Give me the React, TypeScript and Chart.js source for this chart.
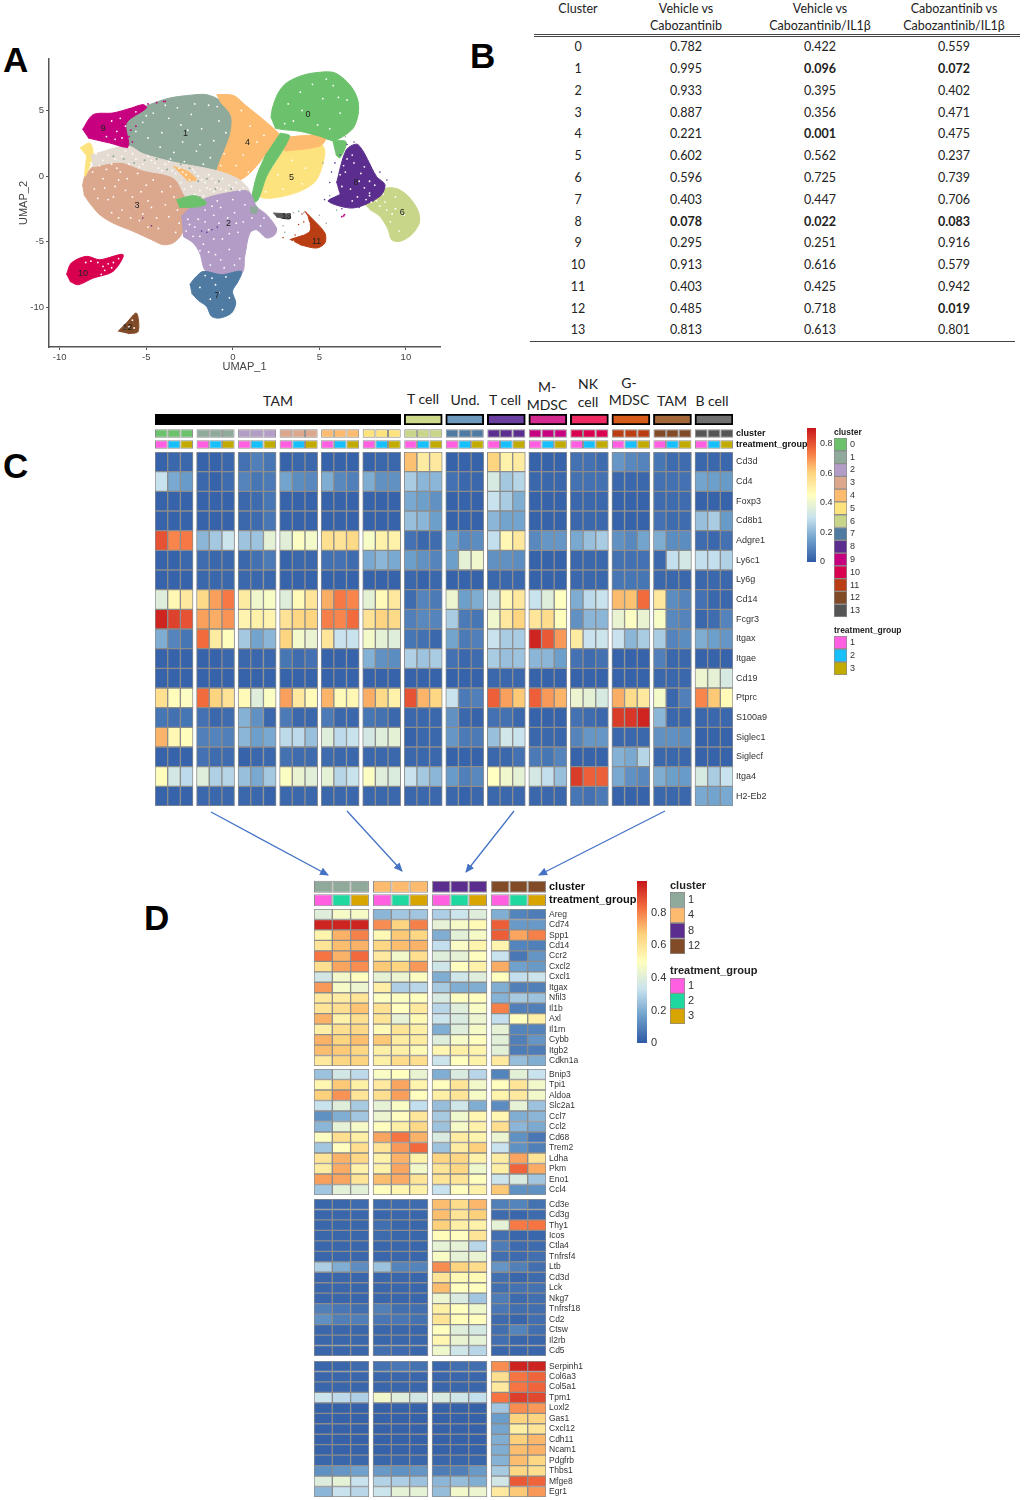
import React, { useEffect, useRef } from "react";
import { Chart, registerables } from "chart.js";

Chart.register(...registerables);
Chart.defaults.font.family = "'Liberation Sans', Arial, sans-serif";
Chart.defaults.animation = false as any;

/* ---------- shared colours ---------- */
const clusterColors = ["#6cc26c", "#8fa99a", "#b39cc6", "#dca88d", "#fdbb70", "#fde37e", "#c8d68a", "#4f7ba2", "#5b2d8e", "#c6007e", "#d90050", "#b93e14", "#824b27", "#555555"];
const treatmentC = ["#ff5fe0", "#18c0fb", "#c2ab00"];
const treatmentD = ["#ff5fe0", "#1fd8a0", "#d8a400"];
const heatStops: [number, string][] = [[0, "#2e5aa4"], [0.17, "#6fa1cc"], [0.33, "#c8e2ee"], [0.5, "#ffffbf"], [0.67, "#fdd27c"], [0.83, "#f5703f"], [1, "#c7161b"]];

/* ---------- panel A: cluster outlines and scattered cells, read in UMAP units ---------- */
const umapXTicks = [-10, -5, 0, 5, 10];
const umapYTicks = [-10, -5, 0, 5];
const shape3 = [[-8.69, -0.79], [-8.55, -0.03], [-8.17, 0.61], [-7.69, 1.12], [-6.53, 1.12], [-5.18, 0.48], [-3.45, -0.15], [-2.58, -1.81], [-2.68, -3.59], [-2.97, -4.48], [-3.45, -5.11], [-4.03, -5.24], [-4.7, -4.86], [-5.76, -4.22], [-6.92, -3.59], [-7.69, -2.95], [-8.27, -2.06], [-8.61, -1.42]];
const shape1 = [[-6.34, 3.92], [-5.76, 4.81], [-4.8, 5.45], [-3.64, 5.95], [-2.48, 6.16], [-1.52, 6.21], [-0.66, 5.7], [-0.08, 4.55], [0.02, 3.03], [-0.27, 1.5], [-0.94, 0.36], [-1.91, 0.61], [-3.45, 0.99], [-5.18, 1.63], [-6.05, 2.26]];
const shape4 = [[-0.94, 6.21], [0.02, 6.16], [0.69, 5.45], [2.33, 3.66], [2.72, 3.03], [2.33, 2.39], [1.18, 0.48], [0.4, -0.28], [-0.75, -0.03], [-0.94, 0.36], [-0.17, 3.03], [-0.08, 4.55], [-0.75, 5.7]];
const shape4b = [[-3.45, 0.74], [-2.6, 0.35], [-2.1, -0.28], [-2.6, -0.4]];
const shape5 = [[2.91, 2.01], [5.03, 2.52], [5.32, 1.76], [4.84, -0.28], [3.87, -1.17], [2.33, -1.68], [1.56, -1.55], [1.95, -0.03]];
const shape5b = [[-8.84, 2.14], [-8.27, 2.52], [-8.07, 1.76], [-8.27, 0.74], [-8.55, -0.03], [-8.45, 1.5]];
const shape4c = [[2.5, 2.9], [5.4, 3.1], [5.05, 2.3], [3.0, 1.9]];
const shape0 = [[2.2, 4.43], [2.29, 5.19], [2.62, 6.34], [3.1, 7.1], [3.87, 7.61], [4.64, 7.86], [5.8, 7.91], [6.47, 7.35], [6.96, 6.59], [7.24, 5.7], [7.24, 4.68], [6.96, 3.66], [6.38, 3.03], [5.8, 2.7], [5.03, 3.03], [3.87, 3.41], [2.91, 3.54], [2.43, 3.66]];
const shape0b = [[2.72, 3.28], [3.29, 3.03], [1.95, -0.03], [1.46, -1.81], [1.08, -2.06], [1.37, -0.03], [1.95, 1.76]];
const shape0c = [[-3.26, -1.81], [-2.2, -1.5], [-1.52, -2.06], [-2, -2.35], [-3.1, -2.4]];
const shape0d = [[5.75, 2.7], [6.55, 2.6], [6.2, 1.4], [5.95, 1.6]];
const shape2 = [[-2.97, -3.08], [-2.39, -2.32], [-1.52, -1.68], [-0.37, -1.3], [0.89, -1.17], [1.37, -2.32], [1.95, -2.95], [2.52, -3.97], [2.43, -4.48], [1.95, -4.73], [1.37, -4.1], [0.98, -4.35], [0.69, -6.13], [0.5, -7.4], [-1.52, -7.28], [-1.91, -5.88], [-2.29, -5.11], [-2.87, -4.61]];
const shape7 = [[-2.49, -8.3], [-2.2, -7.79], [-1.71, -7.28], [-0.66, -7.53], [0.5, -7.28], [0.31, -8.04], [-0.02, -8.8], [0.17, -9.69], [-0.08, -10.46], [-0.75, -10.84], [-1.23, -10.71], [-1.52, -9.95], [-2, -9.49], [-2.39, -8.93]];
const shape9 = [[-8.69, 3.54], [-8.07, 4.68], [-6.92, 4.81], [-5.86, 5.19], [-5.18, 5.45], [-4.99, 5.19], [-6.15, 4.04], [-6.05, 2.26], [-7.11, 2.52], [-8.36, 2.9]];
const shape10 = [[-9.61, -7.53], [-9.33, -6.64], [-8.46, -6.13], [-7.69, -6.39], [-6.34, -6.0], [-6.92, -7.28], [-8.07, -7.79], [-8.94, -8.3], [-9.42, -8.04]];
const shape12 = [[-6.63, -11.86], [-6.15, -11.22], [-5.57, -10.46], [-5.47, -11.86], [-6.05, -12.04]];
const shape11 = [[3.29, -4.86], [4.45, -4.22], [4.35, -3.08], [4.16, -2.7], [4.55, -3.2], [5.32, -4.35], [5.32, -5.11], [4.84, -5.5], [3.87, -5.24]];
const shape13 = [[2.33, -2.82], [3.29, -2.95], [3.29, -3.28], [2.52, -3.13]];
const shape6 = [[7.53, -2.06], [8.31, -1.42], [8.88, -0.92], [9.56, -1.0], [10.23, -1.68], [10.72, -2.7], [10.77, -3.59], [10.33, -4.48], [9.65, -4.99], [9.17, -4.86], [8.98, -4.1], [8.5, -3.08], [7.92, -2.57]];
const shape8 = [[5.99, -0.53], [6.56, 2.0], [7.24, 2.39], [8.3, -0.03], [8.79, -0.66], [8.5, -1.55], [6.96, -2.44], [5.51, -1.93], [6.18, -1.42]];
const shape1b = [[1.0, -2.4], [1.4, -2.35], [1.35, -2.85], [1.0, -2.8]];
const bridgeShape = [[-8.2, 1.6], [-6.1, 2.3], [-5.18, 1.7], [-3.4, 1.05], [-0.9, 0.4], [0.4, -0.3], [0.95, -1.2], [-0.4, -1.35], [-1.9, -1.9], [-2.6, -1.8], [-3.4, -0.15], [-5.2, 0.45], [-6.5, 1.05], [-8.1, 0.7]];

const whiteCells = [
  [-5.2, 4.1], [-4.6, 4.8], [-4.1, 3.3], [-3.7, 4.4], [-3.2, 5.2], [-2.9, 2.6], [-2.4, 4.7], [-2.1, 1.9], [-1.8, 3.6], [-1.4, 5.4], [-1.1, 2.7], [-0.8, 4.2], [-0.5, 1.7], [-0.4, 3.3], [-4.9, 2.9], [-5.6, 3.4], [-3.4, 1.8], [-2.6, 3.5], [-1.7, 0.9], [-1.3, 1.4], [-4.2, 2.2], [-3.0, 3.9], [-2.2, 5.5], [-0.9, 5.3], [-5.0, 4.6], [-3.9, 5.4], [-1.9, 2.4], [-0.7, 0.8], [-3.6, 1.3], [-2.8, 1.1],
  [-7.5, 1.2], [-7.0, 0.9], [-6.4, 1.5], [-6.0, 0.9], [-5.6, 1.3], [-5.2, 0.9], [-4.7, 1.2], [-4.3, 0.6], [-3.9, 0.9], [-3.5, 0.4], [-3.1, 0.6], [-2.7, 0.1], [-2.2, 0.3], [-1.8, -0.3], [-1.4, 0.1], [-1.0, -0.5], [-0.6, -0.2], [-0.2, -0.7], [0.2, -0.5], [0.6, -0.9], [-2.4, -0.8], [-1.9, -1.1], [-1.5, -0.9], [-1.1, -1.2], [-0.7, -1.0], [-3.0, -0.5], [-6.7, 0.6], [-7.9, 1.7], [-8.2, 1.0], [-8.1, 0.3],
  [-7.2, 1.6], [-6.8, 1.3], [-6.2, 1.9], [-5.8, 1.7], [-5.4, 0.7], [-4.9, 1.5], [-4.5, 1.0], [-4.1, 0.4], [-3.7, 1.1], [-3.3, 0.2], [-2.9, 0.3], [-2.5, -0.3], [-2.3, 0.5], [-2.0, 0.0], [-1.6, -0.5], [-1.2, -0.2], [-0.9, -0.9], [-0.4, -1.1], [0.0, -0.9], [0.4, -1.1], [-2.2, -1.4], [-1.7, -1.5], [-1.3, -1.0], [-2.8, -1.0], [-7.7, 0.8], [-7.3, 0.5],
  [-8.0, -1.0], [-7.5, -0.2], [-7.2, -1.8], [-6.8, -0.8], [-6.4, -2.6], [-6.1, -0.2], [-5.8, -1.6], [-5.4, -3.4], [-5.0, -0.7], [-4.7, -2.4], [-4.3, -4.0], [-4.1, -1.2], [-3.7, -3.1], [-3.4, -1.6], [-3.3, -4.3], [-5.9, -3.2], [-7.0, -2.8], [-4.9, -1.9], [-6.5, 0.3], [-5.5, 0.2],
  [-7.8, -1.7], [-7.4, -0.9], [-6.9, -1.6], [-6.6, -0.3], [-6.2, -1.1], [-5.6, -2.4], [-5.3, -1.2], [-4.6, -0.3], [-4.4, -3.2], [-3.9, -2.2], [-3.6, -0.8], [-3.2, -2.6], [-3.1, -3.6], [-4.9, -3.9], [-5.2, -2.9], [-6.6, -3.2],
  [-2.3, -4.6], [-2.0, -3.3], [-1.7, -5.2], [-1.4, -4.1], [-1.1, -3.0], [-1.0, -6.0], [-0.7, -2.4], [-0.6, -4.8], [-0.3, -3.2], [-0.2, -5.6], [0.1, -2.8], [0.3, -4.3], [0.4, -6.3], [-1.3, -6.8], [-0.5, -7.0], [0.7, -2.2], [0.6, -3.5], [-1.6, -2.6], [-2.5, -3.7], [1.6, -3.8], [-0.9, -1.9], [0.0, -1.8],
  [-2.7, -4.2], [-2.2, -3.9], [-1.9, -4.6], [-1.6, -3.5], [-1.9, -5.7], [-1.4, -5.8], [-1.1, -4.8], [-0.8, -3.6], [-0.7, -6.4], [-0.2, -4.4], [0.1, -6.8], [0.2, -3.6], [-2.6, -3.3], [-1.2, -2.3], [1.1, -3.2], [1.8, -3.2],
  [3.2, 5.5], [3.9, 6.4], [4.6, 7.0], [5.2, 5.9], [5.8, 6.9], [6.2, 4.8], [4.9, 3.9], [3.5, 4.2], [5.6, 3.6], [6.6, 5.8], [4.0, 5.0], [3.0, 4.0], [5.4, 7.4], [6.1, 6.0],
  [0.5, 5.0], [1.0, 3.8], [0.6, 1.6], [1.4, 2.6], [0.2, 0.8], [1.8, 3.1], [0.9, 0.3],
  [2.6, 0.1], [3.4, 1.2], [4.2, 0.6], [2.9, -1.0], [4.0, -0.6], [1.9, -1.2],
  [8.3, -1.9], [8.9, -2.6], [9.4, -1.6], [9.1, -3.5], [9.9, -3.0], [8.0, -2.0], [9.6, -4.2], [8.7, -1.4], [7.9, -1.5], [8.5, -2.3], [9.4, -2.5], [8.8, -2.0], [9.2, -2.9], [7.7, -1.8],
  [-1.9, -8.5], [-1.2, -7.8], [-0.8, -8.9], [-0.4, -7.7], [-0.2, -9.3], [-1.3, -9.4], [-0.6, -10.2], [-1.6, -7.6], [-1.0, -8.3],
  [6.5, 0.3], [7.0, 1.0], [7.4, 0.2], [7.6, -0.9], [6.8, -1.0], [6.3, -0.8], [7.9, -0.4], [7.2, -1.6], [6.6, 1.3], [6.9, 1.6], [7.6, 0.7], [6.2, 0.1], [6.1, -1.3], [6.9, -1.9], [7.9, -1.3], [8.2, -0.7], [7.3, -0.4], [6.4, 0.8],
  [-7.5, -6.9], [-7.8, -6.6], [-8.2, -6.5], [-7.2, -6.7], [-6.9, -6.6], [-8.5, -6.6], [-7.4, -7.2], [-7.0, -7.0], [-6.6, -6.3], [-7.6, -7.5],
  [-7.0, 4.2], [-6.7, 3.4], [-6.4, 2.9], [-7.3, 3.0], [-6.2, 3.8], [-6.5, 4.4], [-6.8, 2.8], [-5.6, 4.9],
  [-6.0, -11.5], [-5.8, -11.0], [-5.7, -11.6], [-6.2, -11.7],
  [4.4, -3.6], [4.1, -4.4], [3.5, -5.0],
];
const greyCells = [[-6.9, 1.5], [-6.3, 1.3], [-5.7, 1.0], [-5.1, 1.2], [-4.4, 1.3], [-3.8, 0.5], [-3.0, 0.9], [-2.5, 0.6], [-2.0, -0.4], [-1.5, -0.2], [-0.8, -0.4], [-0.1, -1.0], [-1.9, -1.6], [-1.0, -1.0]];
const strayCluster8 = [[6.2, 1.6], [6.6, 2.4], [7.0, 2.6], [5.9, 1.0], [5.7, 0.3], [5.6, -0.5], [8.5, 0.3], [8.9, -0.3], [6.3, -2.5], [7.3, -2.4], [8.1, -1.9], [5.3, -1.8], [8.3, -1.4], [6.4, 0.9], [7.9, 0.9], [-5.2, -3.2], [-4.7, -3.8], [-1.8, -4.2], [-1.5, -4.3], [-1.2, -4.1], [-0.9, -3.9]];
const strayCluster9 = [[-4.9, 5.5], [-4.4, 5.6], [-4.0, 5.7], [-3.9, 5.7], [-5.3, 5.2], [-6.0, 3.0], [-5.8, 2.6], [-5.6, 3.8], [-6.1, 2.2], [-5.9, 3.5], [6.3, -3.1], [6.4, -3.05], [6.45, -2.95]];
const strayCluster11 = [[4.0, -2.9], [3.8, -3.7], [3.6, -4.5], [2.9, -4.7], [4.1, -3.5]];
const strayCluster1 = [[3.5, -2.8], [3.8, -2.7], [4.1, -2.8], [5.0, -3.0], [5.4, -3.6], [2.9, -3.8], [3.0, -4.3], [6.0, -2.6], [5.6, -1.5], [6.0, 1.9], [6.5, 3.0], [5.2, 1.0]];
const labelIds = ["0", "1", "2", "3", "4", "5", "6", "7", "8", "9", "10", "11", "12", "13"];
const labelX = [4.35, -2.74, -0.25, -5.53, 0.85, 3.39, 9.79, -0.91, 7.11, -7.48, -8.65, 4.84, -6.09, 3.1];
const labelY = [4.73, 3.23, -3.64, -2.26, 2.52, -0.1, -2.8, -9.11, -0.46, 3.61, -7.43, -5.01, -11.53, -3.08];

/* ---------- panel B ---------- */
const tableClusters = ["0", "1", "2", "3", "4", "5", "6", "7", "8", "9", "10", "11", "12", "13"];
const tableVehCabo = ["0.782", "0.995", "0.933", "0.887", "0.221", "0.602", "0.596", "0.403", "*0.078", "0.295", "0.913", "0.403", "0.485", "0.813"];
const tableVehIl = ["0.422", "*0.096", "0.395", "0.356", "*0.001", "0.562", "0.725", "0.447", "*0.022", "0.251", "0.616", "0.425", "0.718", "0.613"];
const tableCaboIl = ["0.559", "*0.072", "0.402", "0.471", "0.475", "0.237", "0.739", "0.706", "*0.083", "0.916", "0.579", "0.942", "*0.019", "0.801"];

/* ---------- panel C ---------- */
const genesC = ["Cd3d", "Cd4", "Foxp3", "Cd8b1", "Adgre1", "Ly6c1", "Ly6g", "Cd14", "Fcgr3", "Itgax", "Itgae", "Cd19", "Ptprc", "S100a9", "Siglec1", "Siglecf", "Itga4", "H2-Eb2"];
const c0 = [[.02, .03, .03], [.30, .17, .14], [.02, .02, .02], [.02, .02, .02], [.80, .72, .74], [.02, .02, .03], [.02, .02, .02], [.36, .48, .53], [.88, .83, .80], [.18, .09, .06], [.02, .02, .02], [.02, .02, .02], [.56, .46, .44], [.06, .05, .06], [.65, .48, .46], [.02, .02, .02], [.46, .33, .28], [.02, .02, .02]];
const c1 = [[.02, .02, .03], [.03, .02, .04], [.02, .02, .02], [.02, .02, .02], [.20, .24, .31], [.04, .03, .03], [.03, .03, .03], [.58, .68, .74], [.68, .66, .70], [.76, .52, .46], [.02, .02, .03], [.02, .02, .02], [.76, .60, .55], [.05, .03, .04], [.08, .09, .08], [.05, .04, .04], [.36, .26, .27], [.03, .03, .03]];
const c2 = [[.05, .08, .06], [.09, .06, .07], [.03, .04, .06], [.03, .04, .06], [.23, .23, .38], [.03, .05, .07], [.03, .03, .03], [.52, .41, .43], [.49, .50, .49], [.24, .16, .20], [.03, .03, .03], [.02, .02, .02], [.47, .36, .44], [.19, .12, .03], [.20, .15, .17], [.02, .03, .03], [.22, .17, .24], [.03, .03, .02]];
const c3 = [[.02, .03, .03], [.16, .11, .10], [.02, .02, .02], [.02, .02, .02], [.37, .44, .42], [.02, .03, .03], [.02, .02, .02], [.36, .47, .54], [.55, .59, .60], [.60, .42, .39], [.06, .04, .05], [.02, .02, .02], [.68, .53, .47], [.07, .03, .03], [.28, .28, .22], [.05, .04, .04], [.44, .39, .37], [.03, .03, .03]];
const c4 = [[.02, .02, .02], [.18, .10, .08], [.02, .02, .02], [.02, .02, .02], [.56, .55, .58], [.05, .05, .04], [.02, .02, .02], [.66, .74, .72], [.73, .72, .76], [.54, .30, .30], [.02, .02, .02], [.02, .02, .02], [.65, .47, .48], [.07, .03, .03], [.36, .28, .30], [.04, .03, .03], [.38, .27, .30], [.03, .03, .03]];
const c5 = [[.02, .03, .03], [.18, .12, .12], [.02, .02, .02], [.02, .02, .02], [.43, .50, .50], [.17, .20, .17], [.02, .02, .02], [.38, .47, .53], [.55, .60, .58], [.42, .38, .36], [.19, .12, .11], [.02, .02, .02], [.66, .58, .50], [.06, .05, .03], [.33, .36, .38], [.03, .03, .03], [.44, .36, .35], [.03, .03, .03]];
const c6 = [[.63, .52, .53], [.25, .20, .20], [.17, .15, .12], [.22, .20, .15], [.05, .03, .04], [.15, .12, .09], [.03, .02, .03], [.04, .09, .07], [.08, .10, .09], [.06, .05, .03], [.26, .23, .25], [.02, .02, .02], [.80, .65, .59], [.03, .03, .03], [.02, .03, .03], [.03, .03, .03], [.30, .24, .20], [.03, .03, .03]];
const c7 = [[.02, .02, .02], [.05, .03, .03], [.02, .02, .02], [.02, .02, .02], [.15, .10, .11], [.15, .38, .41], [.02, .02, .02], [.40, .15, .18], [.25, .07, .06], [.16, .07, .08], [.05, .03, .04], [.02, .02, .02], [.30, .07, .08], [.12, .03, .02], [.13, .07, .07], [.02, .02, .02], [.14, .08, .10], [.03, .02, .03]];
const c8 = [[.60, .50, .52], [.34, .24, .27], [.30, .25, .18], [.20, .16, .16], [.29, .48, .53], [.12, .12, .11], [.03, .03, .03], [.33, .48, .53], [.41, .53, .60], [.30, .25, .25], [.25, .22, .23], [.03, .03, .03], [.78, .68, .62], [.05, .05, .03], [.22, .32, .30], [.03, .03, .05], [.45, .41, .38], [.03, .03, .03]];
const c9 = [[.02, .02, .02], [.03, .03, .03], [.02, .02, .02], [.02, .02, .02], [.10, .13, .13], [.02, .02, .02], [.02, .02, .02], [.30, .36, .45], [.54, .57, .46], [.88, .79, .69], [.20, .20, .15], [.02, .02, .02], [.78, .69, .65], [.02, .02, .02], [.03, .03, .03], [.07, .06, .09], [.33, .29, .22], [.03, .03, .03]];
const c10 = [[.05, .05, .04], [.05, .05, .05], [.03, .03, .03], [.03, .03, .03], [.17, .22, .25], [.03, .03, .03], [.03, .03, .03], [.18, .28, .30], [.12, .20, .20], [.52, .30, .31], [.05, .04, .05], [.02, .02, .02], [.40, .38, .34], [.05, .04, .03], [.09, .13, .13], [.02, .02, .02], [.84, .78, .78], [.06, .05, .07]];
const c11 = [[.13, .10, .09], [.03, .03, .03], [.02, .02, .02], [.02, .02, .02], [.12, .10, .16], [.05, .05, .05], [.06, .06, .06], [.64, .63, .76], [.39, .44, .39], [.30, .20, .25], [.02, .02, .02], [.02, .02, .02], [.66, .57, .53], [.84, .85, .88], [.03, .03, .03], [.19, .17, .27], [.17, .12, .10], [.02, .02, .02]];
const c12 = [[.06, .04, .04], [.05, .05, .05], [.04, .04, .04], [.05, .04, .04], [.18, .11, .11], [.03, .29, .33], [.03, .03, .03], [.53, .11, .09], [.43, .10, .09], [.25, .09, .11], [.08, .03, .03], [.03, .03, .03], [.42, .03, .08], [.20, .03, .03], [.12, .12, .11], [.03, .03, .03], [.18, .15, .14], [.03, .03, .03]];
const c13 = [[.03, .03, .03], [.16, .15, .14], [.02, .02, .02], [.22, .25, .14], [.04, .03, .05], [.29, .29, .26], [.03, .03, .03], [.05, .03, .03], [.03, .04, .09], [.18, .15, .13], [.02, .02, .02], [.40, .38, .34], [.72, .62, .47], [.03, .03, .03], [.02, .02, .02], [.02, .02, .02], [.34, .25, .30], [.17, .16, .17]];
const cGroups = [c0, c1, c2, c3, c4, c5, c6, c7, c8, c9, c10, c11, c12, c13];
const headerFirst = [0, 6, 7, 8, 9, 10, 11, 12, 13];
const headerLast = [5, 6, 7, 8, 9, 10, 11, 12, 13];
const headerFill = ["#000000", "#cfd98c", "#6e9bbd", "#6a3fa0", "#d42a8f", "#ef2a62", "#d75b1b", "#a4673a", "#707070"];

/* ---------- panel D ---------- */
const dClusters = [1, 4, 8, 12];
const genesD1 = ["Areg", "Cd74", "Spp1", "Cd14", "Ccr2", "Cxcl2", "Cxcl1", "Itgax", "Nfil3", "Il1b", "Axl", "Il1rn", "Cybb", "Itgb2", "Cdkn1a"];
const d1a = [[.40, .47, .47], [.97, .97, .97], [.54, .72, .80], [.60, .70, .72], [.82, .72, .84], [.62, .74, .78], [.36, .46, .50], [.76, .47, .44], [.58, .57, .60], [.60, .62, .69], [.72, .55, .62], [.56, .62, .64], [.72, .66, .70], [.70, .68, .65], [.58, .65, .66]];
const d1b = [[.22, .26, .26], [.78, .66, .80], [.52, .68, .65], [.65, .70, .72], [.58, .46, .62], [.68, .66, .76], [.42, .44, .49], [.56, .28, .30], [.49, .49, .50], [.61, .50, .58], [.60, .42, .52], [.52, .60, .56], [.68, .57, .57], [.56, .56, .52], [.56, .63, .62]];
const d1c = [[.28, .34, .40], [.42, .47, .52], [.20, .41, .47], [.32, .48, .54], [.40, .42, .50], [.35, .50, .55], [.20, .35, .40], [.27, .20, .20], [.38, .49, .50], [.30, .40, .48], [.34, .38, .44], [.20, .40, .47], [.40, .47, .50], [.53, .56, .54], [.34, .50, .55]];
const d1d = [[.20, .10, .08], [.86, .15, .15], [.86, .74, .80], [.54, .10, .09], [.33, .07, .14], [.73, .17, .15], [.50, .32, .34], [.20, .09, .09], [.21, .27, .25], [.80, .09, .09], [.32, .50, .56], [.42, .10, .10], [.41, .09, .14], [.41, .08, .08], [.58, .24, .20]];
const genesD2 = ["Bnip3", "Tpi1", "Aldoa", "Slc2a1", "Ccl7", "Ccl2", "Cd68", "Trem2", "Ldha", "Pkm", "Eno1", "Ccl4"];
const d2a = [[.25, .36, .31], [.53, .68, .56], [.67, .77, .60], [.33, .40, .27], [.13, .20, .26], [.22, .42, .47], [.49, .62, .56], [.26, .50, .62], [.60, .72, .64], [.57, .73, .55], [.75, .74, .60], [.26, .41, .41]];
const d2b = [[.48, .50, .43], [.58, .74, .54], [.62, .75, .50], [.42, .48, .32], [.44, .50, .59], [.50, .56, .64], [.74, .82, .72], [.60, .76, .84], [.55, .72, .55], [.55, .74, .46], [.70, .73, .60], [.50, .53, .55]];
const d2c = [[.20, .38, .30], [.50, .60, .46], [.56, .60, .47], [.24, .35, .20], [.27, .45, .53], [.25, .47, .55], [.38, .57, .54], [.25, .57, .67], [.66, .65, .55], [.60, .65, .45], [.60, .60, .50], [.33, .50, .55]];
const d2d = [[.10, .41, .33], [.50, .60, .46], [.54, .58, .46], [.12, .42, .25], [.53, .20, .22], [.62, .22, .19], [.44, .13, .07], [.33, .13, .09], [.57, .74, .60], [.56, .85, .73], [.34, .38, .26], [.68, .13, .13]];
const genesD3 = ["Cd3e", "Cd3g", "Thy1", "Icos", "Ctla4", "Tnfrsf4", "Ltb", "Cd3d", "Lck", "Nkg7", "Tnfrsf18", "Cd2", "Ctsw", "Il2rb", "Cd5"];
const d3a = [[.03, .03, .04], [.03, .03, .03], [.03, .03, .03], [.03, .03, .03], [.03, .03, .03], [.03, .03, .03], [.28, .20, .12], [.03, .03, .03], [.03, .03, .03], [.03, .03, .03], [.09, .07, .05], [.13, .09, .09], [.03, .03, .03], [.03, .03, .03], [.03, .03, .03]];
const d3b = [[.04, .04, .04], [.03, .03, .03], [.05, .03, .03], [.04, .03, .03], [.03, .03, .03], [.03, .03, .03], [.25, .10, .10], [.03, .03, .03], [.03, .03, .03], [.03, .03, .03], [.09, .05, .05], [.07, .07, .06], [.03, .03, .03], [.03, .03, .03], [.05, .04, .03]];
const d3c = [[.70, .63, .71], [.70, .60, .67], [.67, .56, .55], [.51, .50, .60], [.42, .42, .30], [.48, .42, .43], [.78, .66, .63], [.60, .52, .52], [.70, .50, .50], [.44, .38, .26], [.56, .50, .45], [.60, .51, .50], [.50, .40, .37], [.53, .43, .42], [.45, .35, .30]];
const d3d = [[.09, .10, .06], [.04, .03, .04], [.42, .81, .82], [.05, .03, .03], [.08, .04, .04], [.05, .04, .05], [.14, .09, .05], [.05, .03, .04], [.05, .06, .06], [.08, .04, .05], [.07, .05, .05], [.04, .03, .05], [.05, .10, .05], [.05, .03, .03], [.03, .03, .03]];
const genesD4 = ["Serpinh1", "Col6a3", "Col5a1", "Tpm1", "Loxl2", "Gas1", "Cxcl12", "Cdh11", "Ncam1", "Pdgfrb", "Thbs1", "Mfge8", "Egr1"];
const d4a = [[.03, .03, .04], [.03, .03, .03], [.03, .03, .03], [.34, .31, .28], [.02, .02, .02], [.02, .02, .02], [.02, .02, .02], [.02, .02, .02], [.02, .02, .02], [.03, .03, .03], [.13, .14, .17], [.39, .42, .33], [.22, .33, .30]];
const d4b = [[.06, .07, .06], [.03, .03, .03], [.03, .03, .03], [.46, .40, .36], [.02, .02, .02], [.02, .02, .02], [.02, .02, .02], [.02, .02, .02], [.02, .02, .02], [.03, .03, .03], [.15, .13, .14], [.29, .28, .25], [.34, .42, .42]];
const d4c = [[.03, .05, .05], [.03, .03, .03], [.03, .03, .03], [.38, .35, .32], [.02, .02, .02], [.02, .02, .02], [.02, .02, .02], [.02, .02, .02], [.02, .02, .02], [.03, .03, .03], [.08, .09, .15], [.22, .24, .20], [.24, .46, .44]];
const d4d = [[.78, .97, .97], [.62, .82, .85], [.58, .82, .85], [.82, .92, .90], [.26, .78, .76], [.16, .66, .66], [.18, .56, .60], [.20, .67, .71], [.20, .70, .72], [.21, .70, .65], [.27, .65, .62], [.36, .87, .85], [.58, .68, .76]];

/* ---------- helpers ---------- */
const hex = (s: string) => [1, 3, 5].map((i) => parseInt(s.slice(i, i + 2), 16));
function heat(v: number, max: number) {
  const t = Math.min(1, Math.max(0, v / max));
  for (let i = 1; i < heatStops.length; i++) {
    if (t <= heatStops[i][0]) {
      const [t0, c0s] = heatStops[i - 1];
      const [t1, c1s] = heatStops[i];
      const f = (t - t0) / (t1 - t0);
      const a = hex(c0s), b = hex(c1s);
      return `rgb(${a.map((x, k) => Math.round(x + (b[k] - x) * f)).join(",")})`;
    }
  }
  return heatStops[heatStops.length - 1][1];
}
const noPad = (s: any) => { s.paddingTop = 0; s.paddingBottom = 0; s.paddingLeft = 0; s.paddingRight = 0; };

type Col = { x0: number; colors: string[] };
function cellConfig(rows: string[], cols: Col[], total: number, labelW: number, font: any, color: string, barPct = 1) {
  return {
    type: "bar",
    data: {
      labels: rows,
      datasets: cols.map((c) => ({
        data: rows.map((r, i) => ({ y: r, x: [c.x0, c.x0 + 1] })),
        backgroundColor: c.colors,
        borderColor: "#8c8c8c",
        borderWidth: 1,
        borderSkipped: false,
        grouped: false,
        barPercentage: barPct,
        categoryPercentage: 1,
      })),
    },
    options: {
      indexAxis: "y",
      responsive: false,
      animation: false,
      layout: { padding: 0 },
      plugins: { legend: { display: false }, tooltip: { enabled: false } },
      scales: {
        x: { type: "linear", min: 0, max: total, display: false },
        y: {
          type: "category",
          position: "right",
          offset: true,
          grid: { display: false, drawTicks: false },
          border: { display: false },
          afterFit: (s: any) => { s.width = labelW; noPad(s); },
          ticks: { autoSkip: false, padding: 3, font, color },
        },
      },
    },
  };
}
function groupCols(groupCount: number, gap: number, colorOf: (g: number, c: number) => string[]): Col[] {
  const out: Col[] = [];
  for (let g = 0; g < groupCount; g++) for (let c = 0; c < 3; c++) out.push({ x0: g * (3 + gap) + c, colors: colorOf(g, c) });
  return out;
}
function colorbarConfig(max: number, ticks: number[], labelW: number, size: number) {
  return {
    type: "bar",
    data: {
      labels: ["scale"],
      datasets: [{
        data: [[0, max]],
        borderWidth: 0,
        barPercentage: 1,
        categoryPercentage: 1,
        backgroundColor: (c: any) => {
          const area = c.chart.chartArea;
          if (!area) return heatStops[0][1];
          const g = c.chart.ctx.createLinearGradient(0, area.bottom, 0, area.top);
          heatStops.forEach(([t, col]) => g.addColorStop(t, col));
          return g;
        },
      }],
    },
    options: {
      responsive: false,
      animation: false,
      layout: { padding: { top: 7, bottom: 7 } },
      plugins: { legend: { display: false }, tooltip: { enabled: false } },
      scales: {
        x: { display: false, offset: true },
        y: {
          type: "linear", position: "right", min: 0, max,
          grid: { display: false, drawTicks: false },
          border: { display: false },
          afterFit: (s: any) => { s.width = labelW; noPad(s); },
          afterBuildTicks: (s: any) => { s.ticks = ticks.map((value) => ({ value })); },
          ticks: { padding: 4, font: { size }, color: "#333", callback: (v: any) => String(v) },
        },
      },
    },
  };
}
function umapConfig() {
  const filled = (pts: number[][], color: string) => ({
    data: pts.map(([x, y]) => ({ x, y })), showLine: true, fill: "shape", tension: 0.3,
    borderColor: color, backgroundColor: color, borderWidth: 1, pointRadius: 0,
  });
  const dots = (pts: number[][], color: string, r: number) => ({
    data: pts.map(([x, y]) => ({ x, y })), showLine: false, fill: false,
    backgroundColor: color, borderWidth: 0, pointRadius: r,
  });
  const k = clusterColors;
  const backToFront: any[] = [
    filled(shape3, k[3]), filled(shape5b, k[5]), filled(shape1, k[1]), filled(shape4, k[4]), filled(bridgeShape, "#e4dcd2"), filled(shape4b, k[4]),
    filled(shape5, k[5]), filled(shape4c, k[4]), filled(shape0, k[0]), filled(shape0b, k[0]), filled(shape0d, k[0]),
    filled(shape2, k[2]), filled(shape0c, k[0]), filled(shape1b, k[1]), filled(shape7, k[7]), filled(shape9, k[9]), filled(shape10, k[10]),
    filled(shape12, k[12]), filled(shape11, k[11]), filled(shape13, k[13]), filled(shape6, k[6]), filled(shape8, k[8]),
    dots(greyCells, k[1], 1), dots(whiteCells, "#ffffff", 0.9), dots(strayCluster8, k[8], 0.8), dots(strayCluster9, k[9], 0.9), dots(strayCluster11, k[11], 0.8), dots(strayCluster1, k[1], 0.8),
  ];
  const axis = (ticks: number[], title: string, fit: (s: any) => void, min: number, max: number, pad: any) => ({
    type: "linear", min, max,
    grid: { drawOnChartArea: false, drawTicks: true, tickLength: 3, color: "#555" },
    border: { display: true, color: "#555", width: 1.5 },
    afterFit: (s: any) => { fit(s); noPad(s); },
    afterBuildTicks: (s: any) => { s.ticks = ticks.map((value) => ({ value })); },
    ticks: { font: { size: 9.5 }, color: "#444", padding: 2, maxRotation: 0 },
    title: { display: true, text: title, font: { size: 11 }, color: "#444", padding: pad },
  });
  return {
    type: "scatter",
    data: { datasets: backToFront.reverse() },
    options: {
      responsive: false,
      animation: false,
      layout: { padding: { top: 9, right: 10 } },
      plugins: { legend: { display: false }, tooltip: { enabled: false } },
      scales: {
        x: axis(umapXTicks, "UMAP_1", (s) => { s.height = 33; }, -10.62, 11.97, { top: 0, bottom: 6 }),
        y: axis(umapYTicks, "UMAP_2", (s) => { s.width = 36; }, -13.05, 8.93, { top: 4, bottom: 0 }),
      },
    },
    plugins: [{
      id: "clusterNumbers",
      afterDatasetsDraw(chart: any) {
        const { ctx, scales } = chart;
        ctx.save();
        ctx.font = "9px 'Liberation Sans'";
        ctx.fillStyle = "#222";
        ctx.textAlign = "center";
        ctx.textBaseline = "middle";
        labelIds.forEach((t, i) => ctx.fillText(t, scales.x.getPixelForValue(labelX[i]), scales.y.getPixelForValue(labelY[i])));
        ctx.restore();
      },
    }],
  };
}

/* ---------- React ---------- */
function Box({ left, top, width, height, make }: { left: number; top: number; width: number; height: number; make: () => any }) {
  const ref = useRef<HTMLCanvasElement>(null);
  useEffect(() => {
    const chart = new Chart(ref.current as any, make());
    return () => chart.destroy();
  }, []);
  return <canvas ref={ref} width={width} height={height} style={{ position: "absolute", left, top, width, height }} />;
}
function Txt({ x, y, children, style }: { x: number; y: number; children: any; style?: any }) {
  return <div style={{ position: "absolute", left: x, top: y, transform: "translate(-50%,-50%)", whiteSpace: "nowrap", ...style }}>{children}</div>;
}
const lato = { fontFamily: "Lato, sans-serif", color: "#222" };
const LEFT_T = { transform: "translate(0,-50%)" };
const arial = "'Liberation Sans', sans-serif";

const gapC = 0.276;
const totalC = 14 * 3 + 13 * gapC;
const gapD = 0.224;
const totalD = 4 * 3 + 3 * gapD;
const maxC = 0.905;
const maxD = 0.996;

function dBlock(rows: string[], a: number[][], b: number[][], c: number[][], d: number[][]) {
  const mats = [a, b, c, d];
  return cellConfig(rows, groupCols(4, gapD, (g, col) => mats[g].map((r) => heat(r[col], maxD))), totalD, 90, { size: 8.5 }, "#333");
}
function Cell({ text, x, y }: { text: string; x: number; y: number }) {
  const bold = text.startsWith("*");
  return <Txt x={x} y={y} style={{ ...lato, fontSize: 12.5, fontWeight: bold ? 700 : 400 }}>{text.replace("*", "")}</Txt>;
}

const tableY = [46, 68, 90, 112, 133, 155, 177, 199, 221, 242, 264, 286, 308, 329];
const letters: [string, number, number][] = [["A", 3, 42], ["B", 470, 38], ["C", 3, 448], ["D", 144, 900]];
const cHeaders: [string, number, number][] = [["TAM", 278, 400], ["T cell", 423, 398], ["Und.", 465, 399], ["T cell", 505, 399], ["M-", 547, 386], ["MDSC", 547, 404], ["NK", 588, 383], ["cell", 588, 401], ["G-", 629, 382], ["MDSC", 629, 399], ["TAM", 672, 400], ["B cell", 712, 400]];
const arrows = [[211, 812, 328, 875], [347, 811, 402, 871], [514, 811, 466, 872], [665, 811, 539, 875]];

export default function App() {
  return (
    <div style={{ position: "absolute", left: 0, top: 0, width: 1024, height: 1500, background: "#fff", overflow: "hidden" }}>
      {letters.map(([t, x, y]) => (
        <div key={t} style={{ position: "absolute", left: x, top: y, fontFamily: arial, fontWeight: 700, fontSize: 35, lineHeight: "35px", color: "#000" }}>{t}</div>
      ))}

      {/* A */}
      <Box left={13} top={50} width={437} height={330} make={umapConfig} />

      {/* B */}
      <Txt x={578} y={8} style={{ ...lato, fontSize: 12.5 }}>Cluster</Txt>
      <Txt x={686} y={8} style={{ ...lato, fontSize: 12.5 }}>Vehicle vs</Txt>
      <Txt x={686} y={25} style={{ ...lato, fontSize: 12.5 }}>Cabozantinib</Txt>
      <Txt x={820} y={8} style={{ ...lato, fontSize: 12.5 }}>Vehicle vs</Txt>
      <Txt x={820} y={25} style={{ ...lato, fontSize: 12.5 }}>Cabozantinib/IL1β</Txt>
      <Txt x={954} y={8} style={{ ...lato, fontSize: 12.5 }}>Cabozantinib vs</Txt>
      <Txt x={954} y={25} style={{ ...lato, fontSize: 12.5 }}>Cabozantinib/IL1β</Txt>
      <div style={{ position: "absolute", left: 534, top: 34, width: 486, height: 1, background: "#444" }} />
      <div style={{ position: "absolute", left: 534, top: 36, width: 486, height: 1, background: "#444" }} />
      <div style={{ position: "absolute", left: 530, top: 341, width: 485, height: 1, background: "#444" }} />
      {tableClusters.map((c, i) => (
        <React.Fragment key={c}>
          <Cell text={c} x={578} y={tableY[i]} />
          <Cell text={tableVehCabo[i]} x={686} y={tableY[i]} />
          <Cell text={tableVehIl[i]} x={820} y={tableY[i]} />
          <Cell text={tableCaboIl[i]} x={954} y={tableY[i]} />
        </React.Fragment>
      ))}

      {/* C */}
      {cHeaders.map(([t, x, y], i) => (
        <Txt key={i} x={x} y={y} style={{ ...lato, fontSize: 14 }}>{t}</Txt>
      ))}
      <Box left={155} top={414} width={578} height={11} make={() => ({
        type: "bar",
        data: {
          labels: ["group"],
          datasets: headerFirst.map((f, i) => ({
            data: [[f * (3 + gapC), headerLast[i] * (3 + gapC) + 3]],
            backgroundColor: headerFill[i], borderColor: "#000", borderWidth: 2, borderSkipped: false,
            grouped: false, barPercentage: 1, categoryPercentage: 1,
          })),
        },
        options: {
          indexAxis: "y", responsive: false, animation: false, layout: { padding: 0 },
          plugins: { legend: { display: false }, tooltip: { enabled: false } },
          scales: { x: { type: "linear", min: 0, max: totalC, display: false }, y: { display: false, offset: true } },
        },
      })} />
      <Box left={155} top={428} width={700} height={22} make={() => cellConfig(
        ["cluster", "treatment_group"],
        groupCols(14, gapC, (g, c) => [clusterColors[g], treatmentC[c]]),
        totalC, 122, { size: 9, weight: "bold" }, "#111", 0.78)} />
      <Box left={155} top={452} width={640} height={354} make={() => cellConfig(
        genesC,
        groupCols(14, gapC, (g, c) => cGroups[g].map((r) => heat(r[c], maxC))),
        totalC, 62, { size: 9 }, "#333")} />
      <Box left={807} top={421} width={40} height={148} make={() => colorbarConfig(maxC, [0, 0.2, 0.4, 0.6, 0.8], 31, 9)} />
      <div style={{ position: "absolute", left: 834, top: 432, ...LEFT_T, fontFamily: arial, fontWeight: 700, fontSize: 8.5, color: "#222" }}>cluster</div>
      <Box left={834} top={438} width={40} height={179} make={() => cellConfig(
        labelIds, [{ x0: 0, colors: clusterColors }], 1, 27, { size: 9 }, "#333")} />
      <div style={{ position: "absolute", left: 834, top: 630, ...LEFT_T, fontFamily: arial, fontWeight: 700, fontSize: 8.5, color: "#222" }}>treatment_group</div>
      <Box left={834} top={636} width={40} height={39} make={() => cellConfig(
        ["1", "2", "3"], [{ x0: 0, colors: treatmentC }], 1, 27, { size: 9 }, "#333")} />

      {/* arrows */}
      <svg width={1024} height={1500} style={{ position: "absolute", left: 0, top: 0, pointerEvents: "none" }}>
        <defs>
          <marker id="head" markerWidth="9" markerHeight="8" refX="8" refY="4" orient="auto" markerUnits="userSpaceOnUse">
            <path d="M0,0 L9,4 L0,8 Z" fill="#4472c4" />
          </marker>
        </defs>
        {arrows.map(([a, b, c, d], i) => (
          <line key={i} x1={a} y1={b} x2={c} y2={d} stroke="#4472c4" strokeWidth={1.3} markerEnd="url(#head)" />
        ))}
      </svg>

      {/* D */}
      <Box left={314} top={880} width={332} height={27} make={() => cellConfig(
        ["cluster", "treatment_group"],
        groupCols(4, gapD, (g, c) => [clusterColors[dClusters[g]], treatmentD[c]]),
        totalD, 100, { size: 11, weight: "bold" }, "#111", 0.88)} />
      <Box left={314} top={909} width={322} height={157} make={() => dBlock(genesD1, d1a, d1b, d1c, d1d)} />
      <Box left={314} top={1069} width={322} height={126} make={() => dBlock(genesD2, d2a, d2b, d2c, d2d)} />
      <Box left={314} top={1199} width={322} height={157} make={() => dBlock(genesD3, d3a, d3b, d3c, d3d)} />
      <Box left={314} top={1361} width={322} height={136} make={() => dBlock(genesD4, d4a, d4b, d4c, d4d)} />
      <Box left={637} top={874} width={44} height={176} make={() => colorbarConfig(maxD, [0, 0.2, 0.4, 0.6, 0.8], 34, 11)} />
      <div style={{ position: "absolute", left: 670, top: 885, ...LEFT_T, fontFamily: arial, fontWeight: 700, fontSize: 11, color: "#222" }}>cluster</div>
      <Box left={670} top={892} width={50} height={62} make={() => cellConfig(
        dClusters.map(String), [{ x0: 0, colors: dClusters.map((k) => clusterColors[k]) }], 1, 35, { size: 11 }, "#333")} />
      <div style={{ position: "absolute", left: 670, top: 970, ...LEFT_T, fontFamily: arial, fontWeight: 700, fontSize: 11, color: "#222" }}>treatment_group</div>
      <Box left={670} top={978} width={50} height={46} make={() => cellConfig(
        ["1", "2", "3"], [{ x0: 0, colors: treatmentD }], 1, 35, { size: 11 }, "#333")} />
    </div>
  );
}
